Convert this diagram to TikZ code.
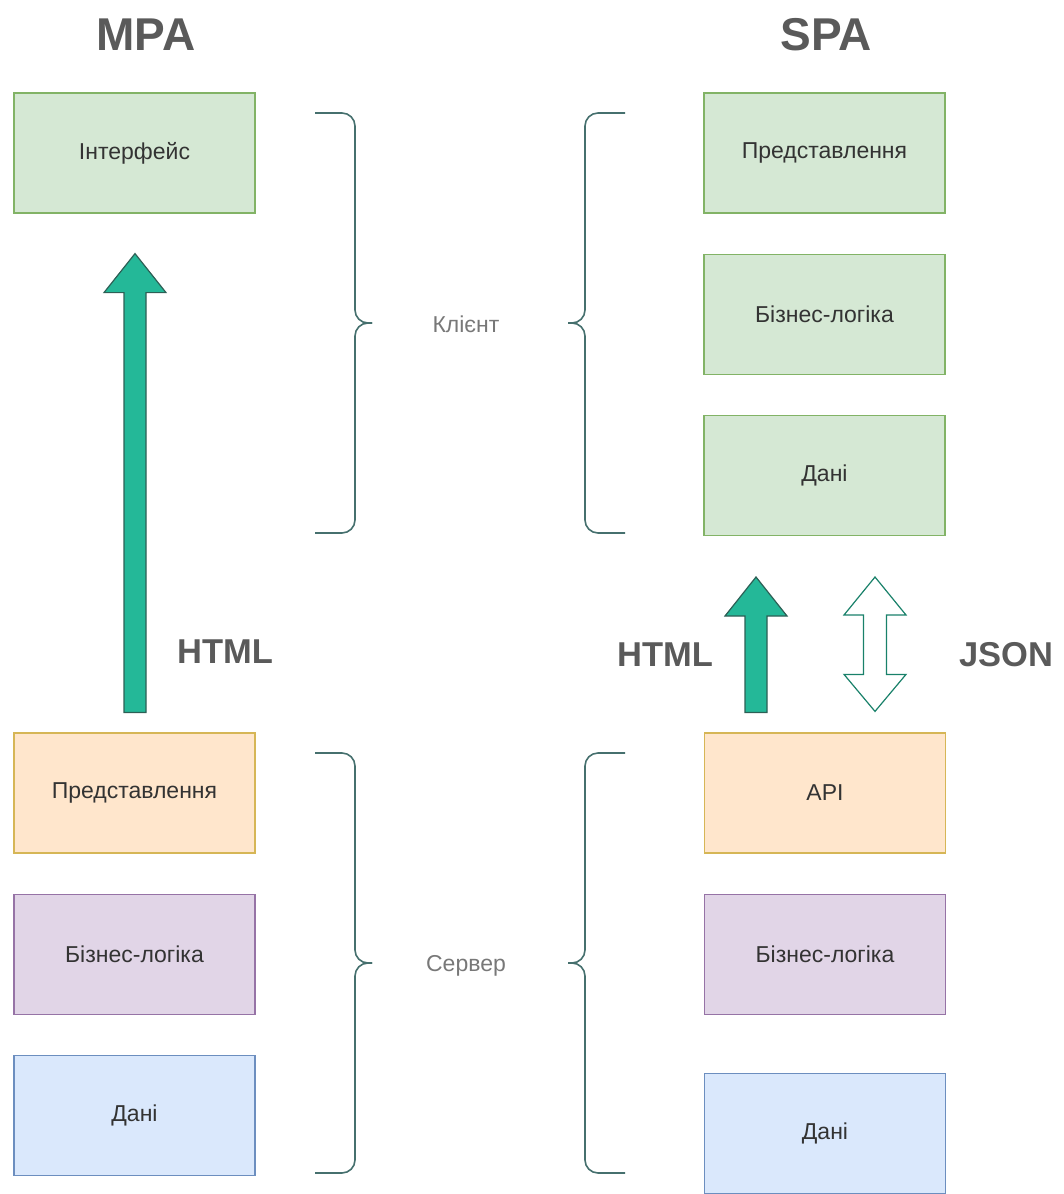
\documentclass[tikz,border=0pt]{standalone}
\usepackage{fontspec}
\setmainfont{Liberation Sans}
\usepackage{xcolor}
\usepackage{tikz}
\usetikzlibrary{positioning, arrows.meta, calc}
\definecolor{LayerGreen}{RGB}{213,232,212}
\definecolor{LayerGreenLine}{RGB}{130,179,102}
\definecolor{LayerOrange}{RGB}{255,230,204}
\definecolor{LayerOrangeLine}{RGB}{214,182,86}
\definecolor{LayerPurple}{RGB}{225,213,231}
\definecolor{LayerPurpleLine}{RGB}{150,115,166}
\definecolor{LayerBlue}{RGB}{218,232,252}
\definecolor{LayerBlueLine}{RGB}{108,142,191}
\definecolor{FlowTeal}{RGB}{36,184,152}
\definecolor{FlowTealLine}{RGB}{45,95,85}
\definecolor{BraceSlate}{RGB}{70,112,110}
\definecolor{TitleGrey}{RGB}{90,90,90}
\definecolor{NoteGrey}{RGB}{120,120,120}
\tikzset{
  layer/.style={draw=#1, line width=1.2pt, minimum width=241pt, minimum height=120pt,
    font=\fontsize{23}{27}\selectfont, text=black!80},
  greenlayer/.style={layer=LayerGreenLine, fill=LayerGreen},
  orangelayer/.style={layer=LayerOrangeLine, fill=LayerOrange},
  purplelayer/.style={layer=LayerPurpleLine, fill=LayerPurple},
  bluelayer/.style={layer=LayerBlueLine, fill=LayerBlue},
  heading/.style={anchor=base, text=TitleGrey, font=\fontsize{46}{50}\selectfont\bfseries},
  payload/.style={anchor=base, text=TitleGrey, font=\fontsize{34.5}{39}\selectfont\bfseries},
  side/.style={anchor=base, text=NoteGrey, font=\fontsize{23}{27}\selectfont},
  bracepen/.style={draw=BraceSlate, line width=1.6pt},
  fatarrow/.style={draw=FlowTealLine, fill=FlowTeal, line width=1.2pt, line join=miter},
  hollowarrow/.style={draw=FlowTeal!70!black, fill=white, line width=1.2pt, line join=miter}
}
% curly bracket: x of the spine, top, bottom, side (+1 opens left, -1 opens right)
\newcommand\sidebrace[4]{%
  \draw[bracepen, rounded corners=13pt] ({#1-#4*40},#2) -- (#1,#2) -- (#1,{(#2+#3)/2}) -- ({#1+#4*17},{(#2+#3)/2});
  \draw[bracepen, rounded corners=13pt] ({#1+#4*17},{(#2+#3)/2}) -- (#1,{(#2+#3)/2}) -- (#1,#3) -- ({#1-#4*40},#3);}
% block arrow from foot (#1) up to tip (#2)
\newcommand\blockup[3][fatarrow]{%
  \draw[#1] let \p1=(#2), \p2=(#3) in
    (\x1-11pt,\y1) -- (\x1+11pt,\y1) -- (\x2+11pt,\y2-39pt) -- (\x2+31pt,\y2-39pt) -- (\x2,\y2)
    -- (\x2-31pt,\y2-39pt) -- (\x2-11pt,\y2-39pt) -- cycle;}
% double block arrow between two tips
\newcommand\blockboth[3][hollowarrow]{%
  \draw[#1] let \p1=(#2), \p2=(#3) in
    (\x2,\y2) -- (\x2+31pt,\y2-38pt) -- (\x2+11.5pt,\y2-38pt) -- (\x1+11.5pt,\y1+37pt) -- (\x1+31pt,\y1+37pt)
    -- (\x1,\y1) -- (\x1-31pt,\y1+37pt) -- (\x1-11.5pt,\y1+37pt) -- (\x2-11.5pt,\y2-38pt) -- (\x2-31pt,\y2-38pt) -- cycle;}

\begin{document}
\begin{tikzpicture}[x=1pt, y=-1pt, node distance=40pt]
  \useasboundingbox (0,0) rectangle (1063,1194);

  % titles
  \node[heading] (mpatitle) at (146,50) {MPA};
  \node[heading] (spatitle) at (826,50) {SPA};

  % MPA column
  \node[greenlayer] (mpaui) at (134.5,153) {Інтерфейс};
  \node[orangelayer] (mpaview) at (134.5,793) {Представлення};
  \node[purplelayer, below=of mpaview] (mpalogic) {Бізнес-логіка};
  \node[bluelayer, below=of mpalogic] (mpadata) {Дані};

  % SPA column
  \node[greenlayer] (spaview) at (824.5,153) {Представлення};
  \node[greenlayer, below=of spaview] (spalogic) {Бізнес-логіка};
  \node[greenlayer, below=of spalogic] (spadata) {Дані};
  \node[orangelayer] (spaapi) at (825,793) {API};
  \node[purplelayer, below=of spaapi] (spaslogic) {Бізнес-логіка};
  \node[bluelayer, below=58pt of spaslogic] (spasdata) {Дані};

  % client / server brackets
  \sidebrace{355}{113}{533}{1}
  \sidebrace{585}{113}{533}{-1}
  \sidebrace{355}{753}{1173}{1}
  \sidebrace{585}{753}{1173}{-1}
  \node[side] (client) at (466,332) {Клієнт};
  \node[side] (server) at (466,971) {Сервер};

  % transfers
  \coordinate (mpafoot) at ($(mpaview.north)+(0.5,-20)$);
  \coordinate (mpatip) at ($(mpaui.south)+(0.5,40)$);
  \blockup{mpafoot}{mpatip}
  \node[payload] (mpahtml) at (225,663) {HTML};

  \coordinate (spafoot) at ($(spaapi.north)+(-69,-20)$);
  \coordinate (spatip) at ($(spadata.south)+(-68.5,41)$);
  \blockup{spafoot}{spatip}
  \node[payload] (spahtml) at (665,666) {HTML};

  \coordinate (jsonlow) at ($(spaapi.north)+(50,-21)$);
  \coordinate (jsonhigh) at ($(spadata.south)+(50.5,41)$);
  \blockboth{jsonlow}{jsonhigh}
  \node[payload] (spajson) at (1006,666) {JSON};
\end{tikzpicture}
\end{document}
